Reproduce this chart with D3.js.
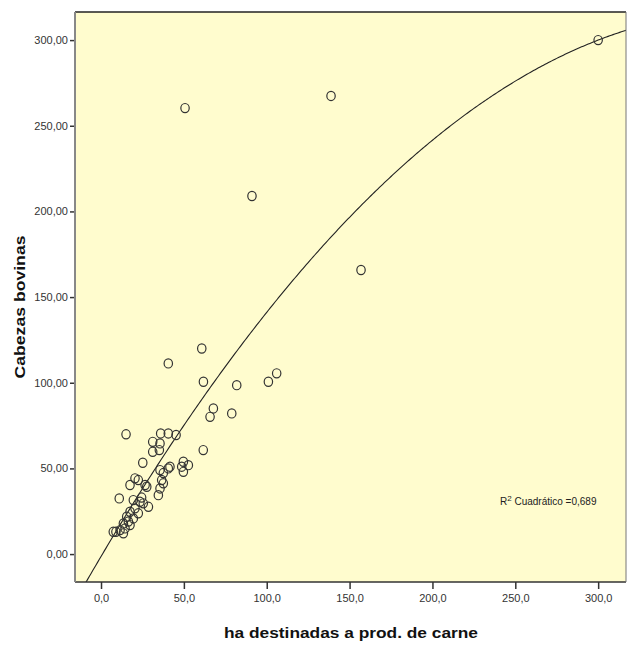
<!DOCTYPE html>
<html><head><meta charset="utf-8">
<script src="https://cdn.jsdelivr.net/npm/d3@7"></script>
<style>body{margin:0;background:#fff;}svg{display:block;}</style>
</head><body>
<svg id="c" width="629" height="648"></svg>
<script>
// Data: ha destined to beef production (x) vs head of cattle (y)
const haCarne = [300,50.7,138.8,91.1,156.9,40.6,60.8,61.8,81.9,101,106,67.8,65.8,78.9,
  15.1,31.2,36.0,40.6,45.3,35.6,31.2,35.2,61.7,25.2,35.6,40.6,41.6,48.7,49.7,52.7,49.7,37.6,
  20.5,22.5,17.5,26.6,27.6,36.6,37.6,35.6,34.6,11.0,19.5,23.5,25.5,20.5,28.6,17.5,22.5,
  15.5,19.5,13.5,17.5,14.5,11.5,7.4,13.5,9.0,16.5,24.5];
const cabezas = [300,260.3,267.4,209,165.8,111.3,120,100.6,98.6,100.6,105.5,85,80.1,82.1,
  69.9,65.5,70.4,70.4,69.5,64.6,59.7,60.7,60.7,53.3,49.0,50.0,51.0,51.0,48.0,51.9,53.9,47.3,
  44.2,43.2,40.3,40.3,39.3,43.2,41.3,38.3,34.4,32.5,31.5,30.5,29.6,26.7,27.6,24.7,23.8,
  21.8,20.8,17.9,16.9,15.0,14.0,13.0,12.1,13.0,19.0,33.0];
const xTicks = [0,50,100,150,200,250,300];
const yTicks = [0,50,100,150,200,250,300];
const fitCoef = [-1.41, 1.6353, -0.002102]; // quadratic fit a + b x + c x^2
const xTitle = "ha destinadas a prod. de carne";
const yTitle = "Cabezas bovinas";
const r2Label = "0,689";

const svg = d3.select("#c");
const L = 75, R = 626, T = 12, B = 582;
const x = d3.scaleLinear().domain([-15.7, 316.8]).range([L, R]);
const y = d3.scaleLinear().domain([-16.3, 316.4]).range([B, T]);
const fmt = v => v.toFixed(1).replace(".", ",");
const fmtY = v => v.toFixed(2).replace(".", ",");

svg.append("rect").attr("x", L).attr("y", T).attr("width", R - L).attr("height", B - T)
  .attr("fill", "#FFFCCE");

svg.append("defs").append("clipPath").attr("id", "clip")
  .append("rect").attr("x", L).attr("y", T).attr("width", R - L).attr("height", B - T);

// axes
const xa = svg.append("g").attr("transform", `translate(0,${B})`)
  .call(d3.axisBottom(x).tickValues(xTicks).tickFormat(fmt).tickSize(7).tickPadding(5));
const ya = svg.append("g").attr("transform", `translate(${L},0)`)
  .call(d3.axisLeft(y).tickValues(yTicks).tickFormat(fmtY).tickSize(5).tickPadding(2));
[xa, ya].forEach(g => {
  g.select(".domain").remove();
  g.selectAll(".tick line").attr("stroke", "#333").attr("stroke-width", 1.5);
  g.selectAll(".tick text").attr("fill", "#333")
    .style("font-family", "'Liberation Sans Narrow','Arial Narrow','Liberation Sans',sans-serif")
    .style("font-size", "11px");
});

// fit curve
const fx = d3.range(-20, 320, 1);
const line = d3.line().x(d => x(d)).y(d => y(fitCoef[0] + fitCoef[1] * d + fitCoef[2] * d * d));
svg.append("path").datum(fx).attr("d", line).attr("fill", "none")
  .attr("stroke", "#222").attr("stroke-width", 1.1).attr("clip-path", "url(#clip)");

// points
svg.append("g").selectAll("ellipse").data(haCarne.map((v, i) => [v, cabezas[i]]))
  .join("ellipse").attr("cx", d => x(d[0])).attr("cy", d => y(d[1]))
  .attr("rx", 4.2).attr("ry", 4.6).attr("fill", "none")
  .attr("stroke", "#333").attr("stroke-width", 1.2);

// frame
svg.append("line").attr("x1", L).attr("x2", R).attr("y1", T).attr("y2", T).attr("stroke", "#222").attr("stroke-width", 1.5);
svg.append("line").attr("x1", L).attr("x2", R).attr("y1", B).attr("y2", B).attr("stroke", "#333").attr("stroke-width", 1.5);
svg.append("line").attr("x1", L).attr("x2", L).attr("y1", T).attr("y2", B).attr("stroke", "#888").attr("stroke-width", 2);
svg.append("line").attr("x1", R).attr("x2", R).attr("y1", T).attr("y2", B).attr("stroke", "#777").attr("stroke-width", 1);

// R2 label
const rt = svg.append("text").attr("x", 500).attr("y", 505).attr("fill", "#222")
  .style("font-family", "'Liberation Sans Narrow','Arial Narrow','Liberation Sans',sans-serif")
  .style("font-size", "10px");
rt.append("tspan").text("R");
rt.append("tspan").attr("dy", -4).style("font-size", "8px").text("2");
rt.append("tspan").attr("dy", 4).text(" Cuadrático =" + r2Label);

// titles
svg.append("text").attr("x", 351).attr("y", 638).attr("text-anchor", "middle")
  .attr("textLength", 254).attr("lengthAdjust", "spacingAndGlyphs")
  .style("font-family", "'Liberation Sans',Arial,sans-serif").style("font-weight", "bold")
  .style("font-size", "15px").attr("fill", "#111").text(xTitle);
svg.append("text").attr("transform", "translate(25,307) rotate(-90)").attr("text-anchor", "middle")
  .attr("textLength", 143).attr("lengthAdjust", "spacingAndGlyphs")
  .style("font-family", "'Liberation Sans',Arial,sans-serif").style("font-weight", "bold")
  .style("font-size", "14px").attr("fill", "#111").text(yTitle);
</script>
</body></html>
